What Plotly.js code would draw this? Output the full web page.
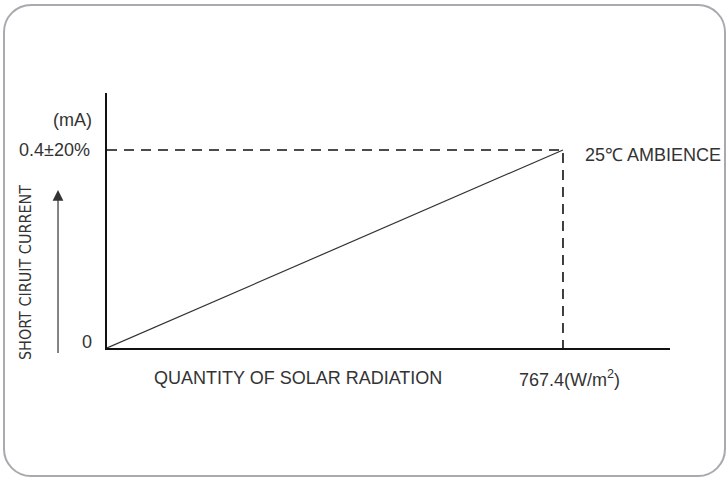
<!DOCTYPE html>
<html>
<head>
<meta charset="utf-8">
<script src="https://cdn.plot.ly/plotly-3.0.1.min.js"></script>
<style>
  html, body { margin: 0; padding: 0; background: #fff; }
  #wrap { position: relative; width: 726px; height: 478px; overflow: hidden; }
  #chart { position: absolute; left: 0; top: 0; width: 726px; height: 478px; }
  #frame { position: absolute; left: 3px; top: 4px; width: 719px; height: 469px;
           border: 2px solid #a9a9ae; border-radius: 28px; pointer-events: none; }
</style>
</head>
<body>
<div id="wrap">
  <div id="chart"></div>
  <div id="frame"></div>
</div>
<script>
// Data
const radiation = [0, 767.4];          // W/m2
const current = [0, 0.4];              // mA
const refRadiation = 767.4;
const refCurrent = 0.4;
const yTickLabels = ["0", "0.4±20%"];
const xRefLabel = "767.4(W/m<sup>2</sup>)";
const yUnit = "(mA)";
const xTitle = "QUANTITY OF SOLAR RADIATION";
const yTitle = "SHORT CIRUIT CURRENT";
const condition = "25℃ AMBIENCE";

const FONT = "Liberation Sans, Arial, Helvetica, sans-serif";
const NARROW = "Liberation Sans Narrow, Arial Narrow, DejaVu Sans Condensed, sans-serif";
const TXT = "#333";
const FS = 18;

const traces = [
  {
    x: [0, refRadiation, refRadiation],
    y: [refCurrent, refCurrent, 0],
    mode: "lines",
    line: { color: "#111", width: 1.6, dash: "10px,7px" },
    hoverinfo: "skip"
  },
  {
    x: radiation,
    y: current,
    mode: "lines",
    line: { color: "#333", width: 1.2 },
    hoverinfo: "skip"
  }
];

const axisBase = {
  showline: true, linecolor: "#111", linewidth: 2,
  showgrid: false, zeroline: false, ticks: "", showticklabels: false,
  fixedrange: true
};

const layout = {
  width: 726, height: 478,
  margin: { l: 107, r: 56, t: 93, b: 130 },
  paper_bgcolor: "#fff", plot_bgcolor: "#fff",
  showlegend: false,
  font: { family: FONT, size: FS, color: TXT },
  xaxis: Object.assign({ range: [0, 947.5] }, axisBase),
  yaxis: Object.assign({ range: [0, 0.515] }, axisBase),
  annotations: [
    { text: yTickLabels[1], xref: "x", yref: "y", x: 0, y: refCurrent,
      xanchor: "right", yanchor: "middle", xshift: -15, showarrow: false, font: { size: FS } },
    { text: yTickLabels[0], xref: "x", yref: "y", x: 0, y: 0,
      xanchor: "right", yanchor: "middle", xshift: -13, yshift: 6, showarrow: false, font: { size: FS } },
    { text: yUnit, xref: "paper", yref: "paper", x: 0, y: 0.894,
      xanchor: "right", yanchor: "middle", xshift: -13, showarrow: false, font: { size: FS } },
    { text: xRefLabel, xref: "x", yref: "paper", x: refRadiation, y: 0,
      xanchor: "center", yanchor: "middle", xshift: 7, yshift: -30, showarrow: false, font: { size: FS } },
    { text: condition, xref: "x", yref: "y", x: refRadiation, y: refCurrent,
      xanchor: "left", yanchor: "middle", xshift: 20, yshift: -5, showarrow: false, font: { size: FS } },
    { text: xTitle, xref: "paper", yref: "paper", x: 0.3384, y: 0,
      xanchor: "center", yanchor: "middle", yshift: -30, showarrow: false, font: { size: FS } },
    { text: yTitle, xref: "paper", yref: "paper", x: -0.1456, y: 0.294, textangle: -90,
      xanchor: "center", yanchor: "middle", showarrow: false, font: { size: 16, family: NARROW } },
    { text: " ", xref: "paper", yref: "paper", x: -0.087, y: 0.6196,
      showarrow: true, ax: 0, ay: 165, arrowhead: 2, arrowsize: 1.8, arrowwidth: 1.2,
      arrowcolor: "#333", standoff: 0, startstandoff: 0, font: { size: 1 } }
  ]
};

Plotly.newPlot("chart", traces, layout, { displayModeBar: false, staticPlot: true });
</script>
</body>
</html>
